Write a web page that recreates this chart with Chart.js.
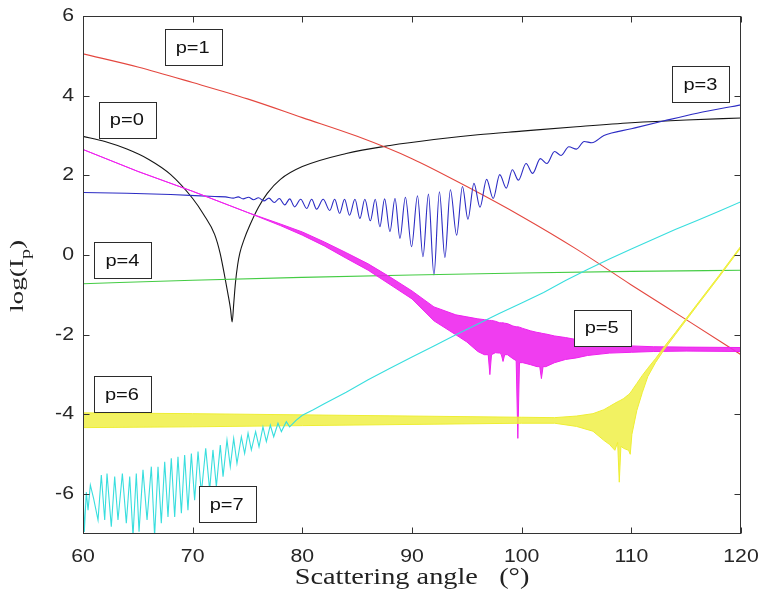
<!DOCTYPE html>
<html>
<head>
<meta charset="utf-8">
<script src="https://cdn.jsdelivr.net/npm/chart.js@4/dist/chart.umd.min.js"></script>
<style>
  html, body { margin: 0; padding: 0; background: #fff; }
  #wrap { width: 762px; height: 607px; }
</style>
</head>
<body>
<div id="wrap"><canvas id="chart" width="762" height="607"></canvas></div>
<script>
// ---- axis ticks ----
const xTicks = [60, 70, 80, 90, 100, 110, 120];
const yTicks = [-6, -4, -2, 0, 2, 4, 6];

// ---- p=0 (black) ----
const p0X = [60, 62, 64, 66, 68, 70, 71, 72, 72.5, 72.9, 73.2, 73.45, 73.6, 73.75, 73.9, 74.1, 74.3, 74.7,
  75.2, 76, 76.8, 78, 80, 84, 88, 92, 96, 100, 105, 110, 115, 120];
const p0Y = [2.98, 2.85, 2.66, 2.4, 2.02, 1.42, 1.02, 0.52, 0.05, -0.5, -0.95, -1.35, -1.68, -1.2, -0.7, -0.25, 0.05, 0.4,
  0.74, 1.2, 1.55, 1.9, 2.22, 2.55, 2.75, 2.9, 3.02, 3.11, 3.22, 3.32, 3.39, 3.44];

// ---- p=1 (red) ----
const p1X = [60, 65, 70, 75, 80, 85, 90, 95, 100, 105, 110, 115, 120];
const p1Y = [5.05, 4.72, 4.33, 3.92, 3.45, 2.98, 2.42, 1.72, 0.97, 0.15, -0.75, -1.62, -2.5];

// ---- p=3 (blue), peaks and troughs ----
const p3X = [60, 64, 68, 72, 73, 73.7, 74.15, 74.6, 75.1, 75.55, 76, 76.5, 76.95, 77.45, 77.9,
  78.4, 78.85, 79.3, 79.85, 80.4, 80.85, 81.3, 81.9, 82.5, 82.95, 83.4, 83.85, 84.3, 84.8,
  85.25, 85.7, 86.2, 86.65, 87.07, 87.5, 87.99, 88.45, 88.9, 89.4, 89.96, 90.5, 91, 91.5,
  92, 92.5, 93, 93.5, 94.07, 94.6, 95.1, 95.65, 96.2, 96.8, 97.4, 98, 98.6, 99.15, 99.7,
  100.4, 101, 101.7, 102.3, 103, 103.6, 104.3, 105, 105.7, 106.4, 107.5, 110, 113, 116, 120];
const p3Y = [1.57, 1.55, 1.52, 1.47, 1.46, 1.43, 1.46, 1.41, 1.45, 1.39, 1.44, 1.36, 1.43, 1.32, 1.42,
  1.26, 1.41, 1.21, 1.4, 1.17, 1.4, 1.15, 1.4, 1.12, 1.4, 1.05, 1.4, 1.0, 1.4,
  0.92, 1.4, 0.86, 1.4, 0.71, 1.41, 0.59, 1.42, 0.42, 1.45, 0.21, 1.49, -0.04, 1.53,
  -0.5, 1.59, -0.06, 1.64, 0.5, 1.72, 0.9, 1.8, 1.2, 1.9, 1.42, 2.02, 1.68, 2.14, 1.88,
  2.3, 2.05, 2.42, 2.3, 2.6, 2.5, 2.72, 2.66, 2.85, 2.82, 3.0, 3.17, 3.37, 3.56, 3.77];

// ---- p=4 (green) ----
const p4X = [60, 70, 80, 90, 100, 110, 120];
const p4Y = [-0.72, -0.63, -0.56, -0.5, -0.45, -0.41, -0.38];

// ---- p=5 (magenta), dense ripple: upper and lower edge of the band ----
const p5X  = [60, 65, 70, 75, 78, 80, 82, 84, 86, 88, 90, 92, 94, 95, 96, 96.6, 96.95, 97.1, 97.25,
  97.6, 98.0, 98.15, 98.3, 98.45, 98.7, 99.2, 99.5, 99.65, 99.8, 100.1, 100.8, 101.4, 101.65, 101.8,
  101.95, 102.2, 103, 104, 105, 106, 108, 110, 112, 115, 120];
const p5Hi = [2.65, 2.1, 1.6, 1.07, 0.78, 0.58, 0.33, 0.06, -0.22, -0.55, -0.9, -1.3, -1.5, -1.55, -1.6, -1.62, -1.63, -1.64, -1.64,
  -1.66, -1.7, -1.7, -1.7, -1.71, -1.72, -1.78, -1.8, -1.8, -1.81, -1.84, -1.9, -1.94, -1.95, -1.96,
  -1.97, -1.98, -2.03, -2.07, -2.12, -2.17, -2.24, -2.28, -2.3, -2.31, -2.32];
const p5Lo = [2.65, 2.1, 1.6, 1.07, 0.74, 0.5, 0.23, -0.08, -0.38, -0.74, -1.1, -1.65, -2.0, -2.18, -2.42, -2.5, -2.5, -3.0, -2.5,
  -2.45, -2.46, -2.5, -2.67, -2.5, -2.5, -2.6, -2.65, -4.6, -2.7, -2.7, -2.75, -2.8, -2.8, -3.1,
  -2.8, -2.8, -2.7, -2.62, -2.58, -2.52, -2.46, -2.44, -2.42, -2.41, -2.42];

// ---- p=6 (yellow), band edges ----
const p6X  = [60, 70, 80, 90, 100, 103, 105, 106.5, 107.5, 108, 108.5, 108.75, 108.9, 109.05, 109.3, 109.75,
  109.9, 110.05, 110.5, 111, 111.5, 112.2, 113, 114, 116, 118, 120];
const p6Hi = [-3.96, -3.98, -4.01, -4.04, -4.07, -4.08, -4.04, -3.98, -3.88, -3.8, -3.72, -3.68, -3.66, -3.64, -3.6, -3.5,
  -3.46, -3.4, -3.22, -3.02, -2.84, -2.6, -2.3, -1.95, -1.23, -0.51, 0.23];
const p6Lo = [-4.33, -4.31, -4.28, -4.25, -4.22, -4.22, -4.3, -4.42, -4.65, -4.75, -4.9, -4.7, -5.7, -4.8, -4.85, -4.9,
  -5.0, -4.5, -3.9, -3.45, -3.05, -2.7, -2.37, -2.0, -1.27, -0.55, 0.19];

// ---- p=7 (cyan), spikes ----
const p7X = [60, 60.12, 60.3, 60.46, 60.67, 60.97, 61.37, 61.67, 61.98, 62.19, 62.58, 62.89, 63.19, 63.59,
  63.95, 64.26, 64.56, 64.86, 65.11, 65.47, 65.84, 66.23, 66.53, 66.84, 67.14, 67.45, 67.75, 68.05,
  68.36, 68.66, 68.97, 69.27, 69.57, 69.88, 70.18, 70.49, 70.79, 71.19, 71.55, 71.85, 72.16, 72.52,
  72.77, 73.13, 73.43, 73.74, 74.04, 74.44, 74.74, 75.05, 75.35, 75.74, 76.05, 76.41, 76.72, 77.08,
  77.39, 77.78, 78.09, 78.54, 78.84, 79.45, 80, 81, 82, 84, 86, 88, 90, 92, 94, 96, 98, 100, 102,
  104, 106, 108, 110, 112, 114, 116, 118, 120];
const p7Y = [-5.8, -6.95, -5.95, -6.4, -5.77, -6.11, -6.65, -5.52, -6.65, -5.48, -6.82, -5.56, -6.65, -5.48,
  -6.73, -5.56, -7.05, -5.48, -6.94, -5.39, -6.65, -5.31, -7.05, -5.31, -6.73, -5.19, -6.57, -5.1,
  -6.57, -5.06, -6.48, -5.02, -6.4, -4.98, -6.15, -4.93, -5.98, -4.85, -5.9, -4.89, -5.81, -4.77,
  -5.56, -4.64, -5.31, -4.6, -5.23, -4.56, -4.98, -4.47, -4.89, -4.43, -4.81, -4.31, -4.68, -4.27,
  -4.56, -4.22, -4.43, -4.18, -4.31, -4.14, -4.02, -3.88, -3.73, -3.44, -3.13, -2.84, -2.56, -2.28,
  -2.0, -1.73, -1.46, -1.2, -0.94, -0.64, -0.36, -0.1, 0.15, 0.4, 0.64, 0.87, 1.1, 1.34];

// ---- text boxes ----
const boxTexts = ["p=1", "p=0", "p=4", "p=3", "p=5", "p=6", "p=7"];
const boxX = [70.0, 64.0, 63.6, 116.3, 107.3, 63.55, 73.1];
const boxY = [5.22, 3.40, -0.12, 4.29, -1.82, -3.49, -6.25];

const SX = 1.18; // the scanned figure's text is a bit wider than tall
const AXIS = "#333333";

function pts(xs, ys) {
  return xs.map((x, i) => ({ x: x, y: ys[i] }));
}

function line(label, xs, ys, color, extra) {
  return Object.assign({
    label: label,
    data: pts(xs, ys),
    borderColor: color,
    backgroundColor: color,
    borderWidth: 1.1,
    pointRadius: 0,
    fill: false,
    tension: 0
  }, extra || {});
}

function wideText(ctx, text, x, y, align, font, color) {
  ctx.save();
  ctx.font = font;
  ctx.fillStyle = color;
  ctx.textAlign = align;
  ctx.textBaseline = "middle";
  ctx.translate(x, y);
  ctx.scale(SX, 1);
  ctx.fillText(text, 0, 0);
  ctx.restore();
}

// frame, inward ticks, tick labels, titles and the p= boxes
const decor = {
  id: "decor",
  afterDatasetsDraw(chart) {
    const ctx = chart.ctx;
    const a = chart.chartArea;
    const xs = chart.scales.x;
    const ys = chart.scales.y;
    const L = Math.round(a.left) + 0.5, R = Math.round(a.right) - 0.5;
    const T = Math.round(a.top) + 0.5, B = Math.round(a.bottom) - 0.5;

    ctx.save();
    ctx.strokeStyle = AXIS;
    ctx.lineWidth = 1;
    ctx.strokeRect(L, T, R - L, B - T);
    ctx.beginPath();
    xTicks.forEach((v) => {
      const px = Math.round(xs.getPixelForValue(v)) + 0.5;
      ctx.moveTo(px, B); ctx.lineTo(px, B - 6);
      ctx.moveTo(px, T); ctx.lineTo(px, T + 6);
    });
    yTicks.forEach((v) => {
      const py = Math.round(ys.getPixelForValue(v)) + 0.5;
      ctx.moveTo(L, py); ctx.lineTo(L + 6, py);
      ctx.moveTo(R, py); ctx.lineTo(R - 6, py);
    });
    ctx.stroke();
    ctx.restore();

    const tickFont = "18px 'Liberation Sans', Arial, sans-serif";
    xTicks.forEach((v) => {
      wideText(ctx, String(v), xs.getPixelForValue(v), 557, "center", tickFont, "#262626");
    });
    yTicks.forEach((v) => {
      wideText(ctx, String(v), 74, ys.getPixelForValue(v), "right", tickFont, "#262626");
    });

    // x title
    wideText(ctx, "Scattering angle   (\u00b0)", (a.left + a.right) / 2, 578, "center",
      "24px 'Liberation Serif', 'Times New Roman', serif", "#222");

    // y title: log(I_p), read bottom to top
    ctx.save();
    ctx.translate(18, 276);
    ctx.rotate(-Math.PI / 2);
    ctx.scale(1.05, 0.72);
    ctx.fillStyle = "#222";
    ctx.textBaseline = "middle";
    const big = "26px 'Liberation Serif', 'Times New Roman', serif";
    const small = "19px 'Liberation Serif', 'Times New Roman', serif";
    ctx.font = big;
    const w1 = ctx.measureText("log(I").width;
    const w3 = ctx.measureText(")").width;
    ctx.font = small;
    const w2 = ctx.measureText("p").width;
    const x0 = -(w1 + w2 + w3) / 2;
    ctx.textAlign = "left";
    ctx.font = big;
    ctx.fillText("log(I", x0, 0);
    ctx.font = small;
    ctx.fillText("p", x0 + w1, 12);
    ctx.font = big;
    ctx.fillText(")", x0 + w1 + w2, 0);
    ctx.restore();

    // boxes
    boxTexts.forEach((t, i) => {
      const cx = xs.getPixelForValue(boxX[i]);
      const cy = ys.getPixelForValue(boxY[i]);
      const bx = Math.round(cx - 28) + 0.5, by = Math.round(cy - 18) + 0.5;
      ctx.save();
      ctx.fillStyle = "#fff";
      ctx.fillRect(bx, by, 57, 36);
      ctx.strokeStyle = "#2b2b2b";
      ctx.lineWidth = 1;
      ctx.strokeRect(bx, by, 57, 36);
      ctx.restore();
      wideText(ctx, t, cx, cy + 1, "center", "17px 'Liberation Sans', Arial, sans-serif", "#111");
    });
  }
};

const RED = "#e4473f", BLACK = "#151515", BLUE = "#2c2cc4", GREEN = "#44cc44";
const MAGENTA = "#ee22ee", YELLOW = "#eeee33", CYAN = "#38dede";

new Chart(document.getElementById("chart"), {
  type: "line",
  data: {
    datasets: [
      line("p=7", p7X, p7Y, CYAN),
      line("p=6 upper", p6X, p6Hi, YELLOW, { borderWidth: 1 }),
      line("p=6 lower", p6X, p6Lo, YELLOW, { borderWidth: 1, fill: "-1", backgroundColor: "rgba(240,240,70,0.85)" }),
      line("p=5 upper", p5X, p5Hi, MAGENTA, { borderWidth: 1 }),
      line("p=5 lower", p5X, p5Lo, MAGENTA, { borderWidth: 1, fill: "-1", backgroundColor: "rgba(238,34,238,0.88)" }),
      line("p=4", p4X, p4Y, GREEN, { cubicInterpolationMode: "monotone" }),
      line("p=3", p3X, p3Y, BLUE, { cubicInterpolationMode: "monotone" }),
      line("p=1", p1X, p1Y, RED, { cubicInterpolationMode: "monotone" }),
      line("p=0", p0X, p0Y, BLACK, { cubicInterpolationMode: "monotone" })
    ]
  },
  options: {
    responsive: false,
    animation: false,
    devicePixelRatio: 1,
    layout: { padding: { top: 16, right: 21, left: 0, bottom: 0 } },
    plugins: { legend: { display: false }, tooltip: { enabled: false } },
    scales: {
      x: {
        type: "linear", min: 60, max: 120,
        grid: { display: false }, border: { display: false },
        ticks: { display: false },
        afterBuildTicks: (s) => { s.ticks = xTicks.map((v) => ({ value: v })); },
        afterFit: (s) => { s.height = 73; }
      },
      y: {
        type: "linear", min: -7, max: 6,
        grid: { display: false }, border: { display: false },
        ticks: { display: false },
        afterBuildTicks: (s) => { s.ticks = yTicks.map((v) => ({ value: v })); },
        afterFit: (s) => { s.width = 83; }
      }
    }
  },
  plugins: [decor]
});
</script>
</body>
</html>
